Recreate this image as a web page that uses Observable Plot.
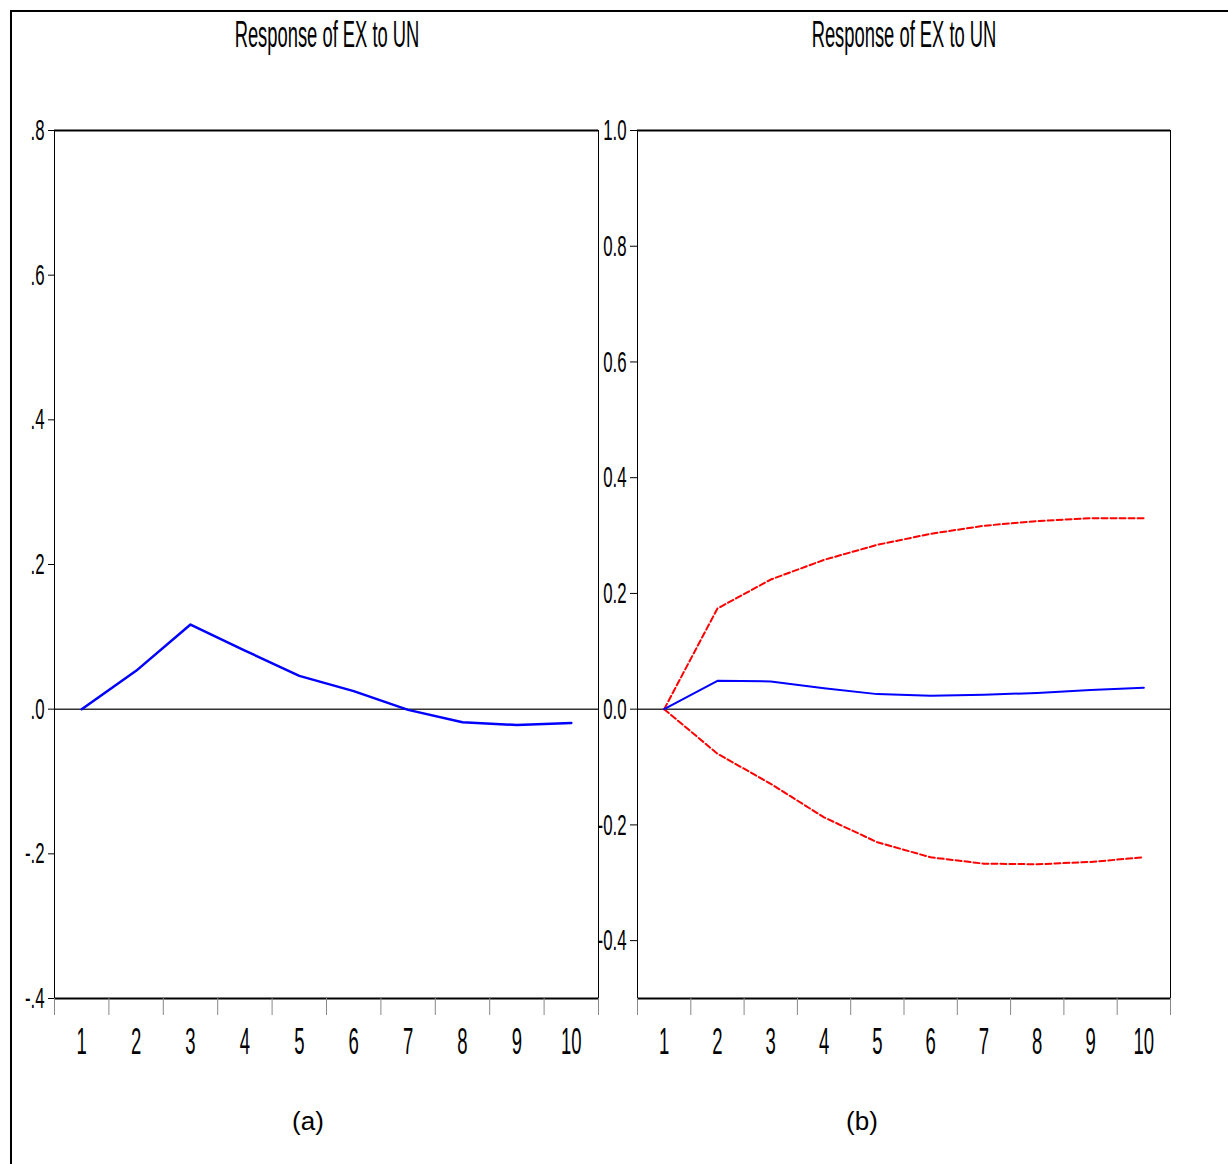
<!DOCTYPE html>
<html>
<head>
<meta charset="utf-8">
<script src="https://cdn.jsdelivr.net/npm/d3@7"></script>
<script src="https://cdn.jsdelivr.net/npm/@observablehq/plot@0.6"></script>
<style>
  html, body { margin: 0; padding: 0; background: #fff; overflow: hidden; }
  #root { position: relative; width: 1228px; height: 1164px; overflow: hidden; font-family: "Liberation Sans", Arial, sans-serif; background: #fff; }
  #border { position: absolute; left: 10px; top: 10px; width: 1400px; height: 1400px; border: 2px solid #000; box-sizing: border-box; }
  .panel { position: absolute; top: 0; }
  .title { position: absolute; top: 17px; font-size: 36px; line-height: 36px; white-space: nowrap; color: #000;
           transform: translateX(-50%) scaleX(0.51); }
  .caption { position: absolute; top: 1108px; font-size: 26px; line-height: 26px; white-space: nowrap; color: #000;
             transform: translateX(-50%); }
</style>
</head>
<body>
<div id="root">
  <div id="border"></div>
  <div class="title" style="left:327px">Response of EX to UN</div>
  <div class="title" style="left:904px">Response of EX to UN</div>
  <div id="panelA" class="panel" style="left:0px"></div>
  <div id="panelB" class="panel" style="left:590px"></div>
  <div class="caption" style="left:308px">(a)</div>
  <div class="caption" style="left:862px">(b)</div>
</div>
<script>
// ---- Data ----
const periods = [1, 2, 3, 4, 5, 6, 7, 8, 9, 10];
const xBounds = [0.5, 1.5, 2.5, 3.5, 4.5, 5.5, 6.5, 7.5, 8.5, 9.5, 10.5];

// Panel (a): response of EX to UN
const respA = [0.0, 0.053, 0.117, 0.081, 0.046, 0.025, -0.001, -0.018, -0.022, -0.019];

// Panel (b): response with ±2 S.E. bands
const respB  = [0.0, 0.049, 0.048, 0.036, 0.026, 0.023, 0.025, 0.028, 0.033, 0.037];
const upperB = [0.0, 0.174, 0.224, 0.258, 0.284, 0.303, 0.317, 0.325, 0.330, 0.330];
const lowerB = [0.0, -0.077, -0.129, -0.187, -0.230, -0.256, -0.267, -0.268, -0.264, -0.256];

// Axis ticks / labels
const yDomainA = [-0.4, 0.8];
const yTicksA  = [-0.4, -0.2, 0.0, 0.2, 0.4, 0.6, 0.8];
const yLabelsA = ["-.4", "-.2", ".0", ".2", ".4", ".6", ".8"];
const yDomainB = [-0.5, 1.0];
const yTicksB  = [-0.4, -0.2, 0.0, 0.2, 0.4, 0.6, 0.8, 1.0];
const yLabelsB = ["-0.4", "-0.2", "0.0", "0.2", "0.4", "0.6", "0.8", "1.0"];

const toRows = (vals) => periods.map((p, i) => ({period: p, value: vals[i]}));

function squeeze(svg) {
  svg.querySelectorAll("g[aria-label]").forEach((g) => {
    const lab = g.getAttribute("aria-label");
    let f = null;
    if (lab === "x-axis tick label") f = 0.5;
    else if (lab === "y-axis tick label") f = 0.56;
    if (!f) return;
    g.querySelectorAll("text").forEach((t) => {
      let tr = t.getAttribute("transform") || "";
      if (!tr && (t.hasAttribute("x") || t.hasAttribute("y"))) {
        tr = `translate(${t.getAttribute("x") || 0},${t.getAttribute("y") || 0})`;
        t.removeAttribute("x"); t.removeAttribute("y");
      }
      t.setAttribute("transform", `${tr} scale(${f},1)`);
    });
  });
}

function panel({yDomain, yTicks, yLabels, lines, width, marginLeft, marginRight, tickSize, tickPadding}) {
  const fmt = (d) => {
    const i = yTicks.findIndex((t) => Math.abs(t - d) < 1e-9);
    return i >= 0 ? yLabels[i] : "";
  };
  const svg = Plot.plot({
    width,
    height: 1164,
    marginLeft,
    marginRight,
    marginTop: 130,
    marginBottom: 166,
    style: {background: "transparent", overflow: "visible", fontFamily: "'Liberation Sans', Arial, sans-serif", color: "#000"},
    x: {domain: [0.5, 10.5]},
    y: {domain: yDomain},
    marks: [
      Plot.ruleY([0], {stroke: "#333", strokeWidth: 1.5}),
      ...lines,
      Plot.ruleY([yDomain[0], yDomain[1]], {stroke: "#000", strokeWidth: 2}),
      Plot.ruleX([0.5, 10.5], {stroke: "#000", strokeWidth: 1}),
      Plot.axisY({ticks: yTicks, tickFormat: fmt, tickSize, tickPadding, fontSize: 30, stroke: "#000", label: null}),
      Plot.axisX({ticks: xBounds, tickFormat: () => "", tickSize: 17, stroke: "#888", label: null}),
      Plot.axisX({ticks: periods, tickFormat: (d) => String(d), tickSize: 0, tickPadding: 29, fontSize: 37, label: null})
    ]
  });
  squeeze(svg);
  return svg;
}

const svgA = panel({
  yDomain: yDomainA, yTicks: yTicksA, yLabels: yLabelsA,
  width: 614, marginLeft: 54, marginRight: 16, tickSize: 6, tickPadding: 4,
  lines: [
    Plot.line(toRows(respA), {x: "period", y: "value", stroke: "#0000ff", strokeWidth: 2.5})
  ]
});
document.getElementById("panelA").appendChild(svgA);

const svgB = panel({
  yDomain: yDomainB, yTicks: yTicksB, yLabels: yLabelsB,
  width: 638, marginLeft: 47, marginRight: 58, tickSize: 7, tickPadding: 4,
  lines: [
    Plot.line(toRows(upperB), {x: "period", y: "value", stroke: "#ff0000", strokeWidth: 2, strokeDasharray: "6,3"}),
    Plot.line(toRows(lowerB), {x: "period", y: "value", stroke: "#ff0000", strokeWidth: 2, strokeDasharray: "6,3"}),
    Plot.line(toRows(respB), {x: "period", y: "value", stroke: "#0000ff", strokeWidth: 2})
  ]
});
document.getElementById("panelB").appendChild(svgB);
</script>
</body>
</html>
